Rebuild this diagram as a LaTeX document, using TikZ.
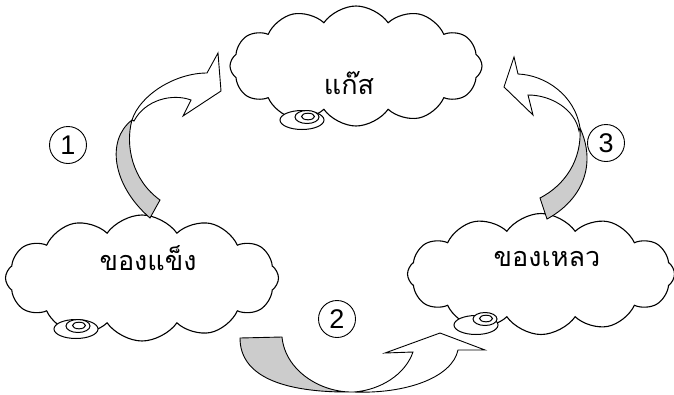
\documentclass[tikz,border=0pt]{standalone}
\usepackage{fontspec}
\usepackage{tikz}
\usetikzlibrary{shapes.symbols}
\setmainfont{Liberation Sans}
\newfontfamily\thaifont[Script=Thai]{Loma}

\begin{document}
\begin{tikzpicture}[x=1pt,y=-1pt,
          puff/.style={cloud,cloud puffs=12,cloud puff arc=110,cloud ignores aspect,
                       draw=black,fill=white,line width=1.1pt,inner sep=0pt},
          bub/.style={draw=black,fill=white,line width=1pt},
          thai/.style={font=\thaifont\fontsize{27}{30}\selectfont},
          num/.style={circle,draw=black,line width=0.9pt,minimum size=37pt,
                      inner sep=0pt,font=\fontsize{27}{29}\selectfont},
          back/.style={draw=black,fill=gray!40,line width=0.9pt,line join=miter},
          front/.style={draw=black,fill=white,line width=0.9pt,line join=miter},
        ]
        \useasboundingbox (0,0) rectangle (674,394);
        % the three clouds
        \node[puff,minimum width=252pt,minimum height=120pt] (gas)    at (356,66)  {};
        \node[puff,minimum width=273pt,minimum height=126pt] (solid)  at (142,278) {};
        \node[puff,minimum width=267pt,minimum height=121pt] (liquid) at (541,274) {};
        \foreach \x/\y/\u/\v in {302/120/307/117,76/329/78/326,476/325/485/319}{
          \draw[bub] (\x,\y) ellipse [x radius=22, y radius=9.5];
          \draw[bub] (\u,\v) ellipse [x radius=12, y radius=6.5];
          \draw[bub] (\u+1,\v-0.5) ellipse [x radius=6.5, y radius=3.3];
        }
        \node[thai] (gastxt)    at (349,83)  {แก๊ส};
        \node[thai] (solidtxt)  at (148,258) {ของแข็ง};
        \node[thai] (liquidtxt) at (547,259) {ของเหลว};
        % arrow 1 : solid -> gas
        \draw[back] (150,218) .. controls (112,185) and (106,140) .. (132,120)
                    .. controls (125,145) and (132,180) .. (160,200) -- cycle;
        \draw[front] (132,120) .. controls (140,95) and (175,73) .. (207,73)
                     -- (218,53) -- (221,91) -- (183,116) -- (191,100)
                     .. controls (172,93) and (145,100) .. (134,121) -- cycle;
        % arrow 2 : solid -> liquid
        \draw[back] (240,338) .. controls (240,375) and (280,393) .. (354,392)
                    .. controls (320,393) and (285,370) .. (282,337) -- cycle;
        \draw[front] (354,392) .. controls (380,390) and (405,375) .. (413,352)
                     -- (385,353) -- (440,333) -- (485,350) -- (458,350)
                     .. controls (452,378) and (405,394) .. (354,392) -- cycle;
        % arrow 3 : liquid -> gas
        \draw[back] (547,219) .. controls (582,200) and (597,165) .. (580,128)
                    .. controls (582,160) and (565,185) .. (540,198) -- cycle;
        \draw[front] (580,128) .. controls (575,95) and (545,75) .. (518,74)
                     -- (514,57) -- (504,87) -- (533,115) -- (528,95)
                     .. controls (552,95) and (575,110) .. (579,131) -- cycle;
        % step numbers
        \node[num] (n1) at (68,145)  {1};
        \node[num] (n2) at (337,319) {2};
        \node[num] (n3) at (606,143) {3};
      \end{tikzpicture}
\end{document}
